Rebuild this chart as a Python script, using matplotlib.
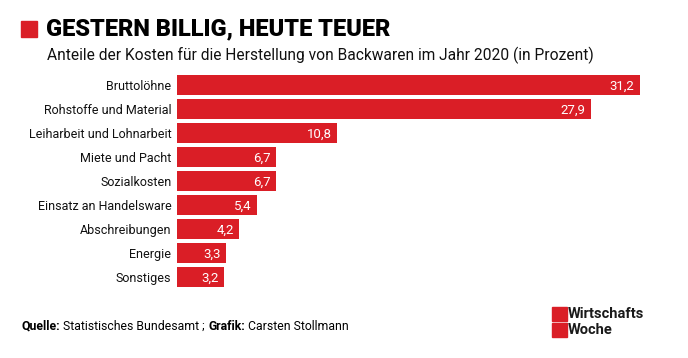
import matplotlib.pyplot as plt
from matplotlib.patches import Rectangle

categories = ['Bruttolöhne', 'Rohstoffe und Material', 'Leiharbeit und Lohnarbeit',
              'Miete und Pacht', 'Sozialkosten', 'Einsatz an Handelsware',
              'Abschreibungen', 'Energie', 'Sonstiges']
values = [31.2, 27.9, 10.8, 6.7, 6.7, 5.4, 4.2, 3.3, 3.2]

title = 'GESTERN BILLIG, HEUTE TEUER'
subtitle = 'Anteile der Kosten für die Herstellung von Backwaren im Jahr 2020 (in Prozent)'

RED = '#da1e26'
W, H = 688, 358

plt.rcParams['font.family'] = ['Roboto', 'DejaVu Sans']

fig = plt.figure(figsize=(W / 100, H / 100), dpi=100)
ax = fig.add_axes([177 / W, 1 - 289 / H, (640 - 177) / W, (289 - 73) / H])

y = list(range(len(categories)))
ax.barh(y, values, height=0.8, color=RED)
ax.set_xlim(0, max(values))
ax.set_ylim(len(categories) - 0.5, -0.5)
ax.set_yticks(y)
ax.set_yticklabels(categories, fontsize=9, color='#111111')
ax.tick_params(axis='y', length=0, pad=4)
ax.set_xticks([])
for s in ax.spines.values():
    s.set_visible(False)

for i, v in enumerate(values):
    ax.annotate(f'{v:.1f}'.replace('.', ','), (v, i), xytext=(-4, -1),
                textcoords='offset points', ha='right', va='center',
                color='white', fontsize=9.5)

# header
fig.patches.append(Rectangle((21 / W, 1 - 37 / H), 16 / W, 16 / H,
                             transform=fig.transFigure, color=RED))
fig.text(46 / W, 1 - 29 / H, title, fontsize=17, fontweight='black',
         va='center', ha='left', color='black')
fig.text(47 / W, 1 - 55 / H, subtitle, fontsize=11.2, va='center', ha='left',
         color='#111111')

# footer
fy = 1 - 326 / H
t1 = fig.text(21 / W, fy, 'Quelle:', fontsize=8.8, fontweight='bold', va='center')
fig.canvas.draw()
r = fig.canvas.get_renderer()
x = t1.get_window_extent(r).x1 + 3
t2 = fig.text(x / W, fy, 'Statistisches Bundesamt ;', fontsize=8.8, va='center')
x = t2.get_window_extent(r).x1 + 4
t3 = fig.text(x / W, fy, 'Grafik:', fontsize=8.8, fontweight='bold', va='center')
x = t3.get_window_extent(r).x1 + 3
fig.text(x / W, fy, 'Carsten Stollmann', fontsize=8.8, va='center')

# logo
fig.patches.append(Rectangle((552 / W, 1 - 321 / H), 15 / W, 14 / H,
                             transform=fig.transFigure, color=RED))
fig.patches.append(Rectangle((552 / W, 1 - 337 / H), 15 / W, 14 / H,
                             transform=fig.transFigure, color=RED))
fig.text(568 / W, 1 - 314 / H, 'Wirtschafts', fontsize=10.5, fontweight='bold',
         va='center', color='#1a1a1a')
fig.text(568 / W, 1 - 330 / H, 'Woche', fontsize=10.5, fontweight='bold',
         va='center', color='#1a1a1a')

fig.savefig('out.png', dpi=100)
